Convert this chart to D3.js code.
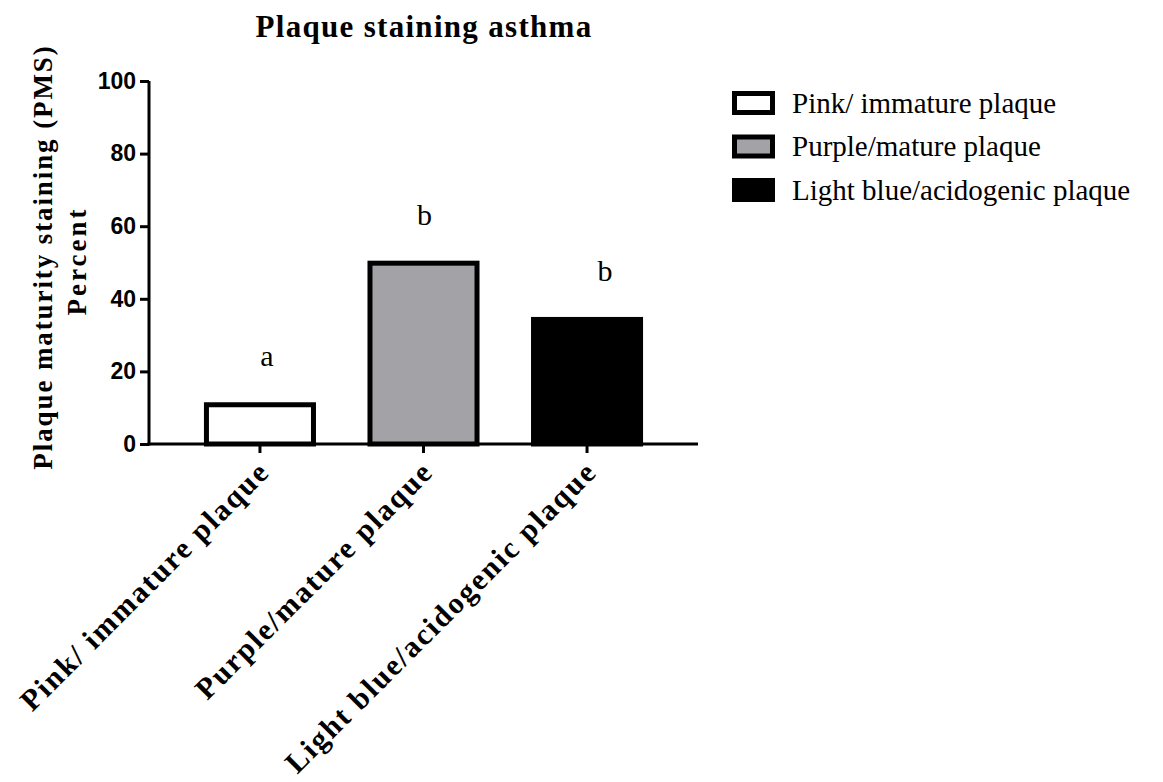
<!DOCTYPE html>
<html>
<head>
<meta charset="utf-8">
<script src="https://cdn.jsdelivr.net/npm/d3@7"></script>
<style>
  body { margin: 0; background: #fff; }
  svg { display: block; }
</style>
</head>
<body>
<svg id="svg" width="1163" height="782"></svg>
<script>
// data
var categories = ["Pink/ immature plaque", "Purple/mature plaque", "Light blue/acidogenic plaque"];
var values = [11.5, 50.5, 35];
var letters = ["a", "b", "b"];
var yTicks = [0, 20, 40, 60, 80, 100];

var fills = ["#ffffff", "#a3a2a7", "#000000"];
var letterDx = [7, 1, 18];

var svg = d3.select("#svg");
var mLeft = 149, mRight = 698, mTop = 81, mBottom = 444;
var serif = "'Liberation Serif', 'Times New Roman', serif";

var x = d3.scaleBand()
  .domain(categories)
  .range([mLeft, mRight])
  .paddingInner(0.315)
  .paddingOuter(0.336);

var y = d3.scaleLinear()
  .domain([0, 100])
  .range([mBottom, mTop]);

// title
svg.append("text")
  .attr("x", 424)
  .attr("y", 37)
  .attr("text-anchor", "middle")
  .style("font-family", serif)
  .style("font-weight", "bold")
  .style("font-size", "31px")
  .style("letter-spacing", "1.3px")
  .text("Plaque staining asthma");

// bars
svg.selectAll("rect.bar")
  .data(values)
  .enter()
  .append("rect")
  .attr("class", "bar")
  .attr("x", function(d, i) { return x(categories[i]) + 2.5; })
  .attr("width", x.bandwidth() - 5)
  .attr("y", function(d) { return y(d) + 2.5; })
  .attr("height", function(d) { return y(0) - y(d) - 2.5; })
  .attr("fill", function(d, i) { return fills[i]; })
  .attr("stroke", "#000")
  .attr("stroke-width", 5);

// significance letters
svg.selectAll("text.letter")
  .data(values)
  .enter()
  .append("text")
  .attr("class", "letter")
  .attr("x", function(d, i) { return x(categories[i]) + x.bandwidth() / 2 + letterDx[i]; })
  .attr("y", function(d) { return y(d) - 36; })
  .attr("text-anchor", "middle")
  .style("font-family", serif)
  .style("font-size", "30px")
  .text(function(d, i) { return letters[i]; });

// y axis
var yAxis = svg.append("g")
  .attr("transform", "translate(" + mLeft + ",0)")
  .call(d3.axisLeft(y).tickValues(yTicks).tickSize(9).tickPadding(4));
yAxis.select(".domain").attr("stroke-width", 3).attr("d", "M0," + mTop + "V" + (mBottom + 1.5));
yAxis.selectAll(".tick line").attr("stroke-width", 3);
yAxis.selectAll(".tick text")
  .style("font-family", "'Liberation Sans', Arial, sans-serif")
  .style("font-weight", "bold")
  .style("font-size", "23px")
  .attr("fill", "#000");

// x axis
var xAxis = svg.append("g")
  .attr("transform", "translate(0," + mBottom + ")")
  .call(d3.axisBottom(x).tickSize(9).tickSizeOuter(0).tickPadding(8));
xAxis.select(".domain").attr("stroke-width", 3).attr("d", "M" + (mLeft - 1.5) + ",0H" + mRight);
xAxis.selectAll(".tick line").attr("stroke-width", 3);
xAxis.selectAll(".tick text")
  .style("font-family", serif)
  .style("font-weight", "bold")
  .style("font-size", "30px")
  .style("letter-spacing", "2px")
  .attr("fill", "#000")
  .attr("text-anchor", "end")
  .attr("dy", "0.35em")
  .attr("transform", "translate(-8,10) rotate(-45)");

// y axis title
var yTitle = svg.append("text")
  .attr("transform", "translate(52," + 257 + ") rotate(-90)")
  .attr("text-anchor", "middle")
  .style("font-family", serif)
  .style("font-weight", "bold")
  .style("font-size", "27px");
yTitle.append("tspan").attr("x", 0).attr("y", 0)
  .style("letter-spacing", "1.9px")
  .text("Plaque maturity staining (PMS)");
yTitle.append("tspan").attr("x", 0).attr("y", 34).attr("dx", -4)
  .style("letter-spacing", "3px")
  .text("Percent");

// legend
var legend = svg.append("g").attr("transform", "translate(732,103)");
var rows = legend.selectAll("g")
  .data(categories)
  .enter()
  .append("g")
  .attr("transform", function(d, i) { return "translate(0," + (i * 43.5) + ")"; });
rows.append("rect")
  .attr("x", 2.5)
  .attr("y", -9.5)
  .attr("width", 38)
  .attr("height", 19)
  .attr("fill", function(d, i) { return fills[i]; })
  .attr("stroke", "#000")
  .attr("stroke-width", 5);
rows.append("text")
  .attr("x", 60)
  .attr("y", 0)
  .attr("dy", "0.33em")
  .style("font-family", serif)
  .style("font-size", "29px")
  .text(function(d) { return d; });
</script>
</body>
</html>
